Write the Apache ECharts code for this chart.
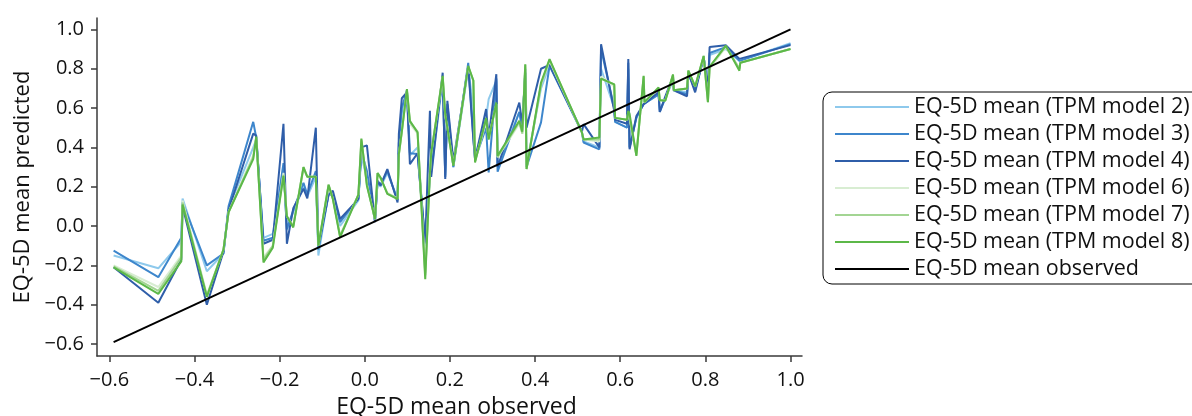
<!DOCTYPE html>
<html>
<head>
<meta charset="utf-8">
<script src="https://cdn.jsdelivr.net/npm/echarts@6/dist/echarts.min.js"></script>
<style>
html,body{margin:0;padding:0;background:#fff;}
#chart{width:1192px;height:416px;}
</style>
</head>
<body>
<div id="chart"></div>
<script>
var observed = [-0.590,-0.485,-0.431,-0.428,-0.371,-0.332,-0.320,-0.262,-0.255,-0.238,
 -0.216,-0.191,-0.183,-0.168,-0.144,-0.135,-0.115,-0.109,-0.085,-0.075,
 -0.058,-0.015,-0.008,0.005,0.024,0.030,0.037,0.053,0.077,0.080,
 0.087,0.099,0.106,0.124,0.142,0.153,0.156,0.183,0.189,0.194,
 0.208,0.243,0.255,0.259,0.285,0.291,0.309,0.312,0.363,0.370,
 0.377,0.380,0.414,0.434,0.510,0.514,0.551,0.555,0.586,0.588,
 0.616,0.619,0.622,0.638,0.655,0.657,0.690,0.693,0.706,0.724,
 0.726,0.757,0.760,0.776,0.796,0.806,0.810,0.848,0.880,0.882,1.000];

var tpm2 = [-0.15,-0.215,-0.08,0.14,-0.23,-0.14,0.09,0.40,0.44,-0.06,
 -0.04,0.30,-0.02,0.07,0.20,0.15,0.25,-0.15,0.17,0.15,
 0.00,0.13,0.36,0.24,0.03,0.22,0.20,0.27,0.14,0.40,
 0.58,0.68,0.36,0.40,-0.10,0.25,0.27,0.74,0.26,0.60,
 0.30,0.80,0.60,0.35,0.55,0.645,0.74,0.30,0.58,0.50,
 0.78,0.31,0.70,0.82,0.48,0.43,0.40,0.80,0.60,0.53,
 0.50,0.80,0.40,0.55,0.62,0.62,0.67,0.59,0.65,0.74,
 0.69,0.68,0.77,0.70,0.85,0.70,0.87,0.90,0.84,0.84,0.93];

var tpm3 = [-0.125,-0.26,-0.06,0.12,-0.20,-0.14,0.10,0.53,0.45,-0.075,
 -0.06,0.32,-0.015,0.08,0.22,0.16,0.28,-0.12,0.16,0.16,
 0.02,0.14,0.38,0.28,0.025,0.23,0.21,0.28,0.13,0.42,
 0.60,0.69,0.37,0.366,-0.09,0.26,0.26,0.76,0.25,0.62,
 0.30,0.83,0.45,0.34,0.50,0.273,0.75,0.276,0.58,0.49,
 0.80,0.30,0.527,0.815,0.476,0.425,0.39,0.90,0.60,0.53,
 0.50,0.83,0.40,0.55,0.62,0.62,0.67,0.58,0.65,0.75,
 0.69,0.67,0.78,0.69,0.86,0.69,0.88,0.91,0.84,0.84,0.925];

var tpm4 = [-0.21,-0.39,-0.17,0.10,-0.40,-0.13,0.08,0.47,0.46,-0.09,
 -0.07,0.52,-0.09,0.09,0.19,0.14,0.50,-0.10,0.16,0.18,
 0.036,0.137,0.40,0.41,0.02,0.23,0.205,0.29,0.12,0.467,
 0.65,0.68,0.315,0.37,-0.083,0.586,0.25,0.78,0.239,0.637,
 0.33,0.81,0.442,0.34,0.595,0.45,0.772,0.30,0.628,0.52,
 0.78,0.50,0.80,0.82,0.48,0.518,0.40,0.925,0.586,0.54,
 0.52,0.85,0.39,0.56,0.62,0.63,0.68,0.58,0.66,0.76,
 0.69,0.66,0.78,0.68,0.86,0.70,0.91,0.92,0.85,0.84,0.92];

var tpm6 = [-0.20,-0.31,-0.15,0.13,-0.35,-0.12,0.07,0.36,0.45,-0.16,
 -0.10,0.27,0.05,0.00,0.29,0.25,0.25,-0.10,0.20,0.14,
 -0.05,0.16,0.43,0.21,0.035,0.26,0.24,0.17,0.14,0.36,
 0.48,0.69,0.52,0.47,-0.24,0.27,0.37,0.76,0.56,0.50,
 0.31,0.81,0.74,0.33,0.53,0.45,0.62,0.35,0.52,0.47,
 0.81,0.30,0.72,0.84,0.476,0.44,0.43,0.76,0.71,0.55,
 0.54,0.58,0.57,0.37,0.76,0.63,0.70,0.64,0.64,0.76,
 0.69,0.70,0.79,0.71,0.86,0.64,0.80,0.91,0.80,0.83,0.90];

var tpm7 = [-0.205,-0.33,-0.16,0.12,-0.355,-0.12,0.07,0.35,0.45,-0.17,
 -0.10,0.26,0.05,0.00,0.30,0.25,0.25,-0.10,0.21,0.14,
 -0.05,0.16,0.44,0.21,0.035,0.27,0.245,0.165,0.14,0.36,
 0.48,0.69,0.53,0.48,-0.25,0.27,0.37,0.76,0.56,0.50,
 0.31,0.81,0.74,0.33,0.54,0.45,0.62,0.35,0.53,0.47,
 0.82,0.29,0.72,0.845,0.476,0.44,0.44,0.75,0.72,0.55,
 0.54,0.58,0.57,0.36,0.76,0.63,0.70,0.64,0.64,0.77,
 0.69,0.70,0.79,0.71,0.865,0.63,0.81,0.915,0.80,0.83,0.90];

var tpm8 = [-0.21,-0.345,-0.18,0.11,-0.36,-0.12,0.07,0.34,0.455,-0.185,
 -0.11,0.255,0.05,-0.007,0.30,0.25,0.25,-0.10,0.21,0.137,
 -0.057,0.16,0.445,0.205,0.036,0.27,0.247,0.163,0.137,0.366,
 0.48,0.696,0.535,0.476,-0.27,0.27,0.37,0.764,0.57,0.50,
 0.306,0.815,0.74,0.323,0.55,0.44,0.628,0.357,0.535,0.48,
 0.823,0.29,0.73,0.849,0.476,0.44,0.45,0.75,0.72,0.55,
 0.54,0.585,0.57,0.357,0.764,0.63,0.705,0.64,0.637,0.77,
 0.69,0.70,0.79,0.71,0.865,0.63,0.81,0.917,0.79,0.83,0.90];

var identityX = [-0.59, 1.0];
var identityY = [-0.59, 1.0];

var seriesNames = ['EQ-5D mean (TPM model 2)','EQ-5D mean (TPM model 3)','EQ-5D mean (TPM model 4)',
 'EQ-5D mean (TPM model 6)','EQ-5D mean (TPM model 7)','EQ-5D mean (TPM model 8)','EQ-5D mean observed'];
var seriesColors = ['#8ec9ec','#3d86cc','#2f5ea9','#d8edd2','#a3d593','#5cb848','#000000'];
var tickValues = [-0.6,-0.4,-0.2,0.0,0.2,0.4,0.6,0.8,1.0];

function zip(xs, ys){ return xs.map(function(x,i){ return [x, ys[i]]; }); }
var allY = [tpm2,tpm3,tpm4,tpm6,tpm7,tpm8];

var FONT = 'Open Sans';
function fmt(v){ return v.toFixed(1).replace('-', '\u2212'); }

var series = allY.map(function(ys, i){
  return {
    name: seriesNames[i], type: 'line', data: zip(observed, ys),
    showSymbol: false, symbol: 'none', animation: false,
    lineStyle: { width: 2, color: seriesColors[i] }, itemStyle: { color: seriesColors[i] }
  };
});
series.push({
  name: seriesNames[6], type: 'line', data: zip(identityX, identityY),
  showSymbol: false, symbol: 'none', animation: false,
  lineStyle: { width: 2, color: '#000' }, itemStyle: { color: '#000' }
});

var chart = echarts.init(document.getElementById('chart'), null, {renderer: 'canvas'});
chart.setOption({
  animation: false,
  backgroundColor: '#fff',
  grid: { left: 97, right: 390, top: 18, bottom: 60, containLabel: false, outerBoundsMode: 'none' },
  xAxis: {
    type: 'value', min: -0.629, max: 1.027,
    name: 'EQ-5D mean observed', nameLocation: 'middle', nameGap: 40,
    nameTextStyle: { fontFamily: FONT, fontSize: 23, color: '#111', padding: [0, 0, 0, 14] },
    splitLine: { show: false },
    axisLine: { show: true, onZero: false, lineStyle: { color: '#3a3a3a', width: 1.5 } },
    axisTick: { show: true, inside: false, length: 6, customValues: tickValues, lineStyle: { color: '#3a3a3a', width: 1.5 } },
    axisLabel: { customValues: tickValues, margin: 14, fontFamily: FONT, fontSize: 20, color: '#111', formatter: fmt }
  },
  yAxis: {
    type: 'value', min: -0.661, max: 1.058,
    name: 'EQ-5D mean predicted', nameLocation: 'middle', nameGap: 63,
    nameTextStyle: { fontFamily: FONT, fontSize: 22, color: '#111' },
    splitLine: { show: false },
    axisLine: { show: true, onZero: false, lineStyle: { color: '#3a3a3a', width: 1.5 } },
    axisTick: { show: true, inside: false, length: 6, customValues: tickValues, lineStyle: { color: '#3a3a3a', width: 1.5 } },
    axisLabel: { customValues: tickValues, margin: 13, fontFamily: FONT, fontSize: 20, color: '#111', formatter: fmt }
  },
  legend: {
    orient: 'vertical', left: 823, top: 92, width: 500,
    data: seriesNames,
    icon: 'rect', itemWidth: 74, itemHeight: 2, itemGap: 5, itemTextGap: 8,
    padding: [4, 40, 4, 12],
    borderColor: '#000', borderWidth: 1, borderRadius: 9,
    textStyle: { fontFamily: FONT, fontSize: 21.5, color: '#111', lineHeight: 22 },
    itemStyle: { borderWidth: 0 }
  },
  series: series
});
</script>
</body>
</html>
